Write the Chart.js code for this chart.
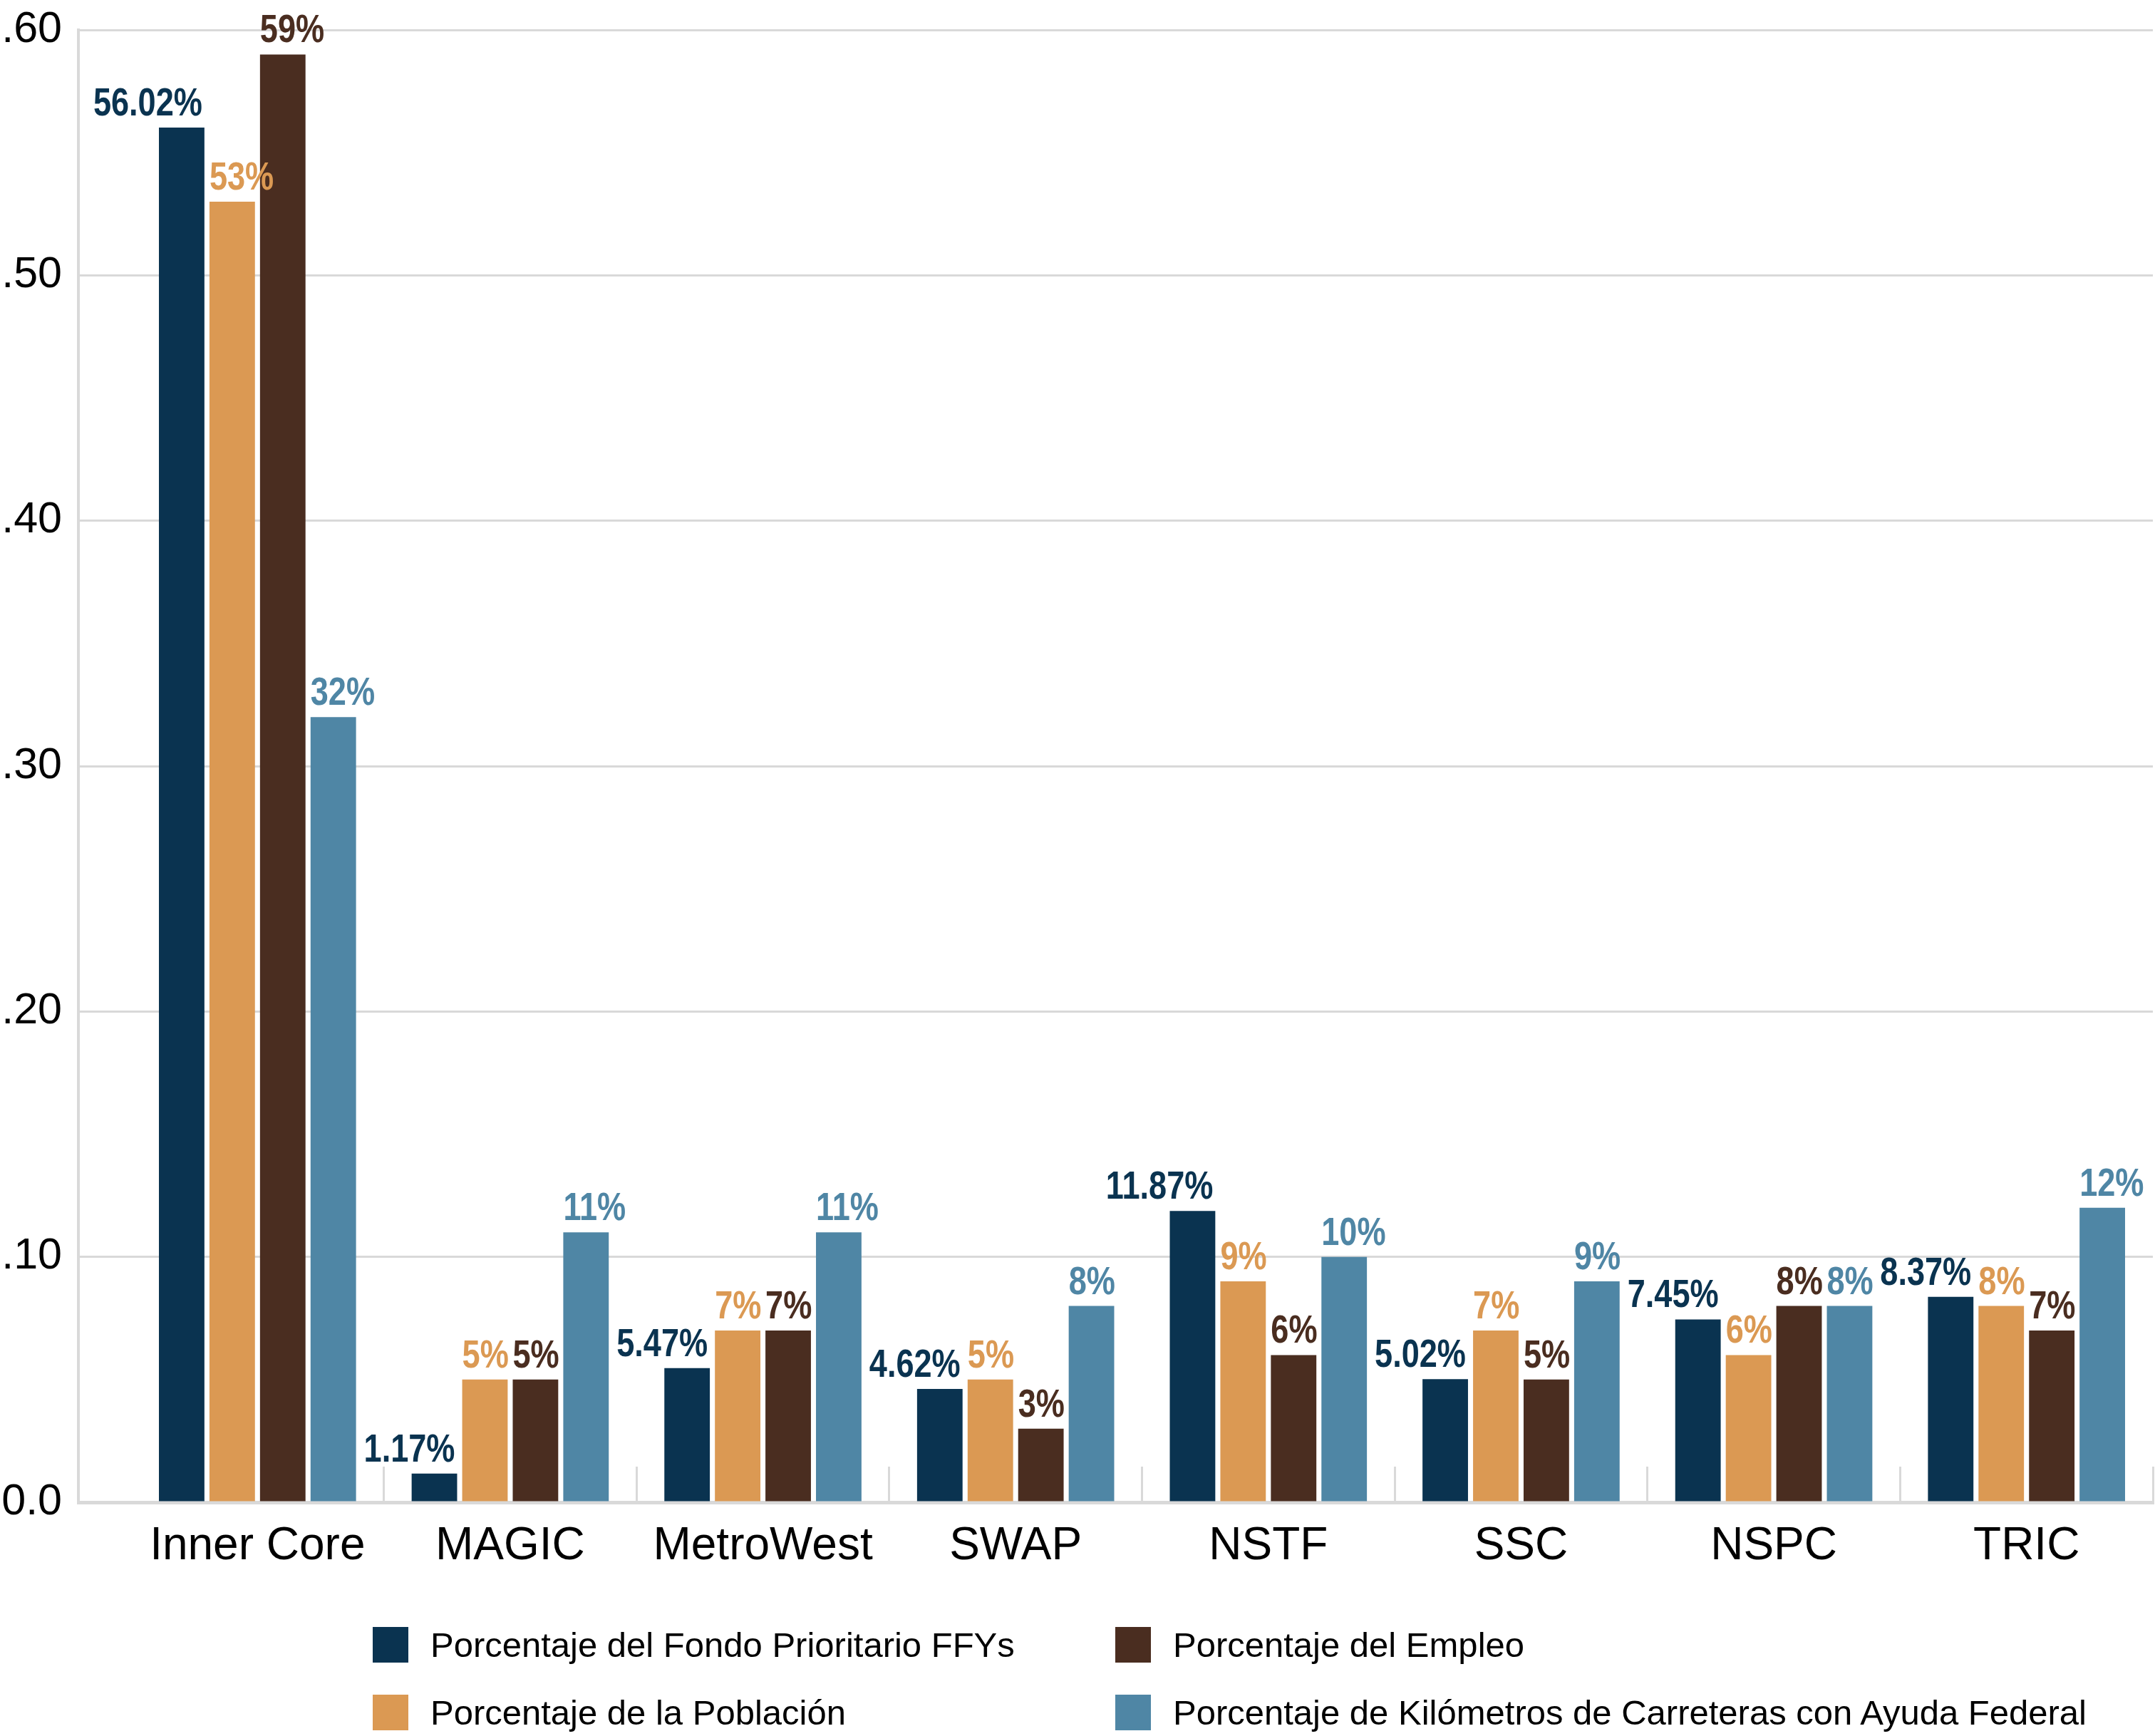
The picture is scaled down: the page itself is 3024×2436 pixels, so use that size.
<!DOCTYPE html>
<html>
<head>
<meta charset="utf-8">
<script src="https://cdn.jsdelivr.net/npm/chart.js@4.4.1/dist/chart.umd.min.js"></script>
<style>
  html, body { margin: 0; padding: 0; background: #ffffff; }
  #wrap { position: relative; width: 3024px; height: 2436px; }
  #legend {
    position: absolute; left: 523px; top: 2260px;
    display: grid; grid-template-columns: 1042px auto; grid-template-rows: 95px 95px;
    grid-auto-flow: column;
    font-family: "Liberation Sans", Arial, sans-serif; font-size: 49px; color: #000;
  }
  .li { display: flex; align-items: center; white-space: nowrap; }
  .sw { width: 50px; height: 50px; margin-right: 31px; flex: none; }
</style>
</head>
<body>
<div id="wrap"><canvas id="c"></canvas><div id="legend"></div></div>
<script>
// ---------------- data ----------------
const categories = ['Inner Core', 'MAGIC', 'MetroWest', 'SWAP', 'NSTF', 'SSC', 'NSPC', 'TRIC'];
const seriesNames = [
  'Porcentaje del Fondo Prioritario FFYs',
  'Porcentaje de la Población',
  'Porcentaje del Empleo',
  'Porcentaje de Kilómetros de Carreteras con Ayuda Federal'
];
const fondoFFYs  = [0.5602, 0.0117, 0.0547, 0.0462, 0.1187, 0.0502, 0.0745, 0.0837];
const poblacion  = [0.53, 0.05, 0.07, 0.05, 0.09, 0.07, 0.06, 0.08];
const empleo     = [0.59, 0.05, 0.07, 0.03, 0.06, 0.05, 0.08, 0.07];
const kilometros = [0.32, 0.11, 0.11, 0.08, 0.10, 0.09, 0.08, 0.12];
const yTickLabels = ['0.0', '.10', '.20', '.30', '.40', '.50', '.60'];
const labelDecimals = [2, 0, 0, 0];

// ---------------- styles ----------------
const seriesColors = ['#0A3350', '#DB9953', '#4A2D20', '#4F86A5'];
const FONT = '"Liberation Sans", Arial, sans-serif';
const GRID = '#d9d9d9';
const FIRST_CATEGORY_GAP = 74; // empty space between y axis line and first category

const seriesValues = [fondoFFYs, poblacion, empleo, kilometros];

const valueLabels = {
  id: 'valueLabels',
  afterDatasetsDraw(chart) {
    const ctx = chart.ctx;
    chart.data.datasets.forEach((ds, di) => {
      const meta = chart.getDatasetMeta(di);
      meta.data.forEach((bar, i) => {
        const v = ds.data[i];
        const txt = (v * 100).toFixed(labelDecimals[di]) + '%';
        const p = bar.getProps(['x', 'y', 'width'], true);
        const alignRight = di === 0;
        ctx.save();
        ctx.font = 'bold 55px ' + FONT;
        ctx.fillStyle = ds.backgroundColor;
        ctx.textBaseline = 'alphabetic';
        ctx.textAlign = alignRight ? 'right' : 'left';
        const ax = alignRight ? p.x + p.width / 2 - 3 : p.x - p.width / 2;
        ctx.translate(ax, p.y - 17);
        ctx.scale(0.82, 1);
        ctx.fillText(txt, 0, 0);
        ctx.restore();
      });
    });
  }
};

const categoryOffset = {
  id: 'categoryOffset',
  afterLayout(chart) {
    const s = chart.scales.x;
    s._startPixel += FIRST_CATEGORY_GAP;
    s._length -= FIRST_CATEGORY_GAP;
  }
};

const htmlLegend = {
  id: 'htmlLegend',
  afterInit(chart) {
    const box = document.getElementById('legend');
    box.innerHTML = '';
    chart.data.datasets.forEach(ds => {
      const item = document.createElement('div');
      item.className = 'li';
      const sw = document.createElement('span');
      sw.className = 'sw';
      sw.style.background = ds.backgroundColor;
      const t = document.createElement('span');
      t.textContent = ds.label;
      item.appendChild(sw); item.appendChild(t);
      box.appendChild(item);
    });
  }
};

new Chart(document.getElementById('c'), {
  type: 'bar',
  data: {
    labels: categories,
    datasets: seriesValues.map((vals, i) => ({
      label: seriesNames[i],
      data: vals,
      backgroundColor: seriesColors[i],
      borderWidth: 0,
      categoryPercentage: 0.8,
      barPercentage: 0.9
    }))
  },
  options: {
    responsive: true,
    maintainAspectRatio: false,
    animation: false,
    layout: { padding: { top: 42, right: 3, bottom: 0, left: 0 } },
    plugins: { legend: { display: false }, tooltip: { enabled: false } },
    scales: {
      x: {
        offset: true,
        grid: {
          offset: true,
          drawOnChartArea: false,
          drawTicks: true,
          tickLength: -50,
          lineWidth: 3,
          color: (c) => c.index === 0 ? 'rgba(0,0,0,0)' : GRID
        },
        border: { color: GRID, width: 5 },
        ticks: { font: { family: FONT, size: 64 }, color: '#000', padding: 74, maxRotation: 0, autoSkip: false },
        afterFit: (s) => { s.height = 328; }
      },
      y: {
        min: 0, max: 0.6,
        grid: { color: GRID, lineWidth: 3, drawTicks: false },
        border: { color: GRID, width: 4 },
        ticks: {
          stepSize: 0.1,
          padding: 23,
          font: { family: FONT, size: 61 },
          color: '#000',
          callback: (value, index) => yTickLabels[index]
        },
        afterFit: (s) => { s.width = 110; s.paddingTop = 0; }
      }
    }
  },
  plugins: [categoryOffset, valueLabels, htmlLegend]
});
</script>
</body>
</html>
